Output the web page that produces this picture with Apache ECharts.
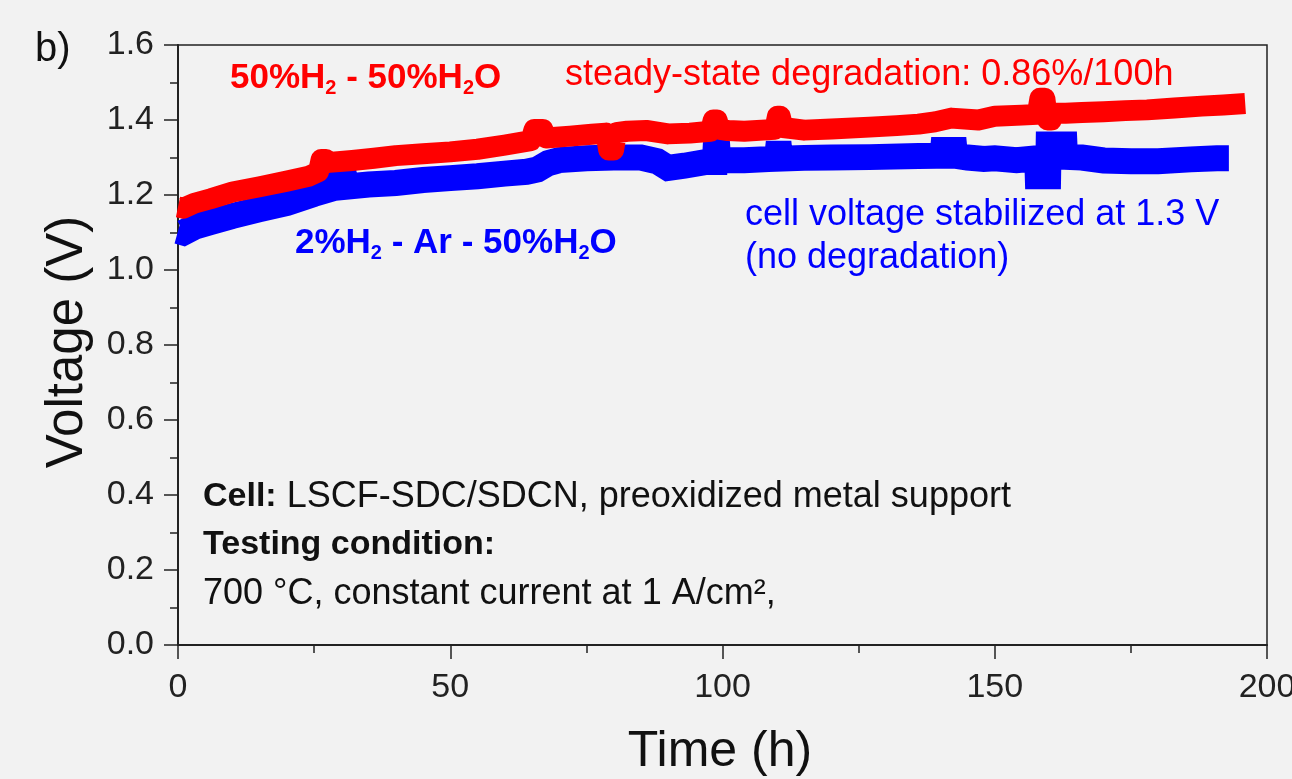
<!DOCTYPE html>
<html>
<head>
<meta charset="utf-8">
<script src="https://cdn.jsdelivr.net/npm/echarts@6/dist/echarts.min.js"></script>
<style>
html,body{margin:0;padding:0;background:#f2f2f2;overflow:hidden;}
#chart{width:1292px;height:779px;}
</style>
</head>
<body>
<div id="chart"></div>
<script>
// ---- data (time in h, cell voltage in V) ----
const xTicks = [0, 50, 100, 150, 200];
const yTicks = [0.0, 0.2, 0.4, 0.6, 0.8, 1.0, 1.2, 1.4, 1.6];

// 50%H2 - 50%H2O
const redSeries = [
  [0,1.168],[1,1.165],[3,1.178],[6,1.19],[10,1.208],[15,1.222],[20,1.237],[24,1.25],
  [25.8,1.262],[26.3,1.295],[27.2,1.295],[27.8,1.287],[32,1.292],[36,1.298],[40,1.305],
  [45,1.31],[50,1.315],[55,1.322],[60,1.333],[64.8,1.345],[65.4,1.375],[67,1.375],
  [67.6,1.352],[72,1.357],[76,1.362],[78.6,1.365],[79.1,1.32],[80,1.32],[80.5,1.366],
  [82.5,1.37],[86,1.372],[90,1.363],[94,1.365],[97.8,1.37],[98.3,1.40],[99,1.40],
  [99.5,1.375],[101,1.372],[104,1.37],[109.6,1.375],[110.1,1.41],[110.6,1.41],[111.1,1.38],
  [115,1.373],[120,1.376],[127,1.381],[132,1.385],[136,1.389],[139,1.395],[142,1.405],
  [147,1.40],[150,1.41],[155,1.413],[157.8,1.415],[158.3,1.458],[159.2,1.458],[159.7,1.40],
  [160.4,1.40],[160.8,1.418],[163,1.418],[166,1.42],[170,1.422],[174,1.425],[178,1.427],
  [183,1.432],[188,1.437],[192,1.44],[196,1.444]
];

// 2%H2 - Ar - 50%H2O
const blueSeries = [
  [0,1.104],[1,1.10],[3,1.115],[6,1.128],[10,1.144],[15,1.162],[20,1.179],[25,1.203],
  [27.8,1.215],[27.9,1.235],[30.6,1.235],[30.7,1.222],[35,1.228],[40,1.232],[45,1.24],
  [50,1.245],[55,1.25],[60,1.257],[64,1.262],[66,1.268],[68,1.285],[70,1.293],[75,1.298],
  [80,1.30],[85,1.30],[88,1.29],[90,1.272],[93,1.278],[97,1.288],[98.6,1.288],[98.7,1.315],
  [99.1,1.315],[99.2,1.293],[104,1.293],[110,1.297],[110.1,1.31],[110.5,1.31],[110.6,1.297],
  [115,1.299],[120,1.30],[127,1.301],[136,1.304],[140.4,1.305],[140.5,1.32],[142.6,1.32],
  [142.7,1.305],[145,1.30],[148,1.296],[150,1.298],[154,1.293],[157.8,1.298],[157.9,1.25],
  [159.8,1.25],[159.9,1.335],[162.8,1.335],[162.9,1.302],[166,1.30],[170,1.292],[175,1.29],
  [180,1.29],[186,1.295],[190.8,1.298],[193,1.298]
];

const FONT = '"Liberation Sans", Arial, sans-serif';
const RED = '#ff0000';
const BLUE = '#0000ff';

const chart = echarts.init(document.getElementById('chart'), null, {renderer: 'canvas'});

function label(x, y, text, rich, extra) {
  return {
    type: 'text', x: x, y: y, z: 50,
    style: Object.assign({
      text: text, rich: rich, fontFamily: FONT,
      verticalAlign: 'middle', align: 'left'
    }, extra || {})
  };
}

function subRich(color, size) {
  return {
    a: {fontFamily: FONT, fontSize: size, fontWeight: 'bold', fill: color, lineHeight: 40},
    s: {fontFamily: FONT, fontSize: 20, fontWeight: 'bold', fill: color, lineHeight: 4, verticalAlign: 'bottom'}
  };
}

const option = {
  backgroundColor: '#f2f2f2',
  animation: false,
  grid: {
    left: 178, right: 25, top: 45, bottom: 134,
    outerBoundsMode: 'none', containLabel: false,
    show: true, borderColor: '#222', borderWidth: 1.5, backgroundColor: 'transparent'
  },
  xAxis: {
    type: 'value', min: xTicks[0], max: xTicks[xTicks.length - 1], interval: 50,
    axisLine: {show: true, onZero: false, lineStyle: {color: '#222', width: 2}},
    axisTick: {show: true, length: 14, lineStyle: {color: '#222', width: 1.5}},
    minorTick: {show: true, splitNumber: 2, length: 8, lineStyle: {color: '#222', width: 1.5}},
    splitLine: {show: false},
    axisLabel: {color: '#222', fontFamily: FONT, fontSize: 34, margin: 26}
  },
  yAxis: {
    type: 'value', min: yTicks[0], max: yTicks[yTicks.length - 1], interval: 0.2,
    axisLine: {show: true, onZero: false, lineStyle: {color: '#222', width: 2}},
    axisTick: {show: true, length: 14, lineStyle: {color: '#222', width: 1.5}},
    minorTick: {show: true, splitNumber: 2, length: 8, lineStyle: {color: '#222', width: 1.5}},
    splitLine: {show: false},
    axisLabel: {color: '#222', fontFamily: FONT, fontSize: 34, margin: 24,
      formatter: v => v.toFixed(1)}
  },
  series: [
    {
      type: 'line', name: '2%H2 - Ar - 50%H2O', data: blueSeries, showSymbol: false,
      symbol: 'none', lineStyle: {color: BLUE, width: 26, join: 'miter', cap: 'butt'}, z: 2
    },
    {
      type: 'line', name: '50%H2 - 50%H2O', data: redSeries, showSymbol: false,
      symbol: 'none', lineStyle: {color: RED, width: 21, join: 'round', cap: 'butt'}, z: 3
    }
  ],
  graphic: [
    label(35, 50, 'b)', null, {fontSize: 40, fill: '#111'}),
    {
      type: 'text', x: 68, y: 342, rotation: Math.PI / 2, z: 50,
      style: {text: 'Voltage (V)', fontFamily: FONT, fontSize: 51, fill: '#111',
        align: 'center', verticalAlign: 'middle'}
    },
    label(720, 752, 'Time (h)', null, {fontSize: 50, fill: '#111', align: 'center'}),
    label(230, 78, '{a|50%H}{s|2}{a| - 50%H}{s|2}{a|O}', subRich(RED, 35)),
    label(565, 75, 'steady-state degradation: 0.86%/100h', null, {fontSize: 36, fill: RED}),
    label(295, 243, '{a|2%H}{s|2}{a| - Ar - 50%H}{s|2}{a|O}', subRich(BLUE, 35)),
    label(745, 215, 'cell voltage stabilized at 1.3 V', null, {fontSize: 36, fill: BLUE}),
    label(745, 258, '(no degradation)', null, {fontSize: 36, fill: BLUE}),
    label(203, 497, '{b|Cell:}{n| LSCF-SDC/SDCN, preoxidized metal support}', {
      b: {fontFamily: FONT, fontSize: 34, fontWeight: 'bold', fill: '#111'},
      n: {fontFamily: FONT, fontSize: 36, fill: '#111'}
    }),
    label(203, 545, 'Testing condition:', null, {fontSize: 34, fontWeight: 'bold', fill: '#111'}),
    label(203, 594, '700 °C, constant current at 1 A/cm²,', null, {fontSize: 36, fill: '#111'})
  ]
};
chart.setOption(option);
</script>
</body>
</html>
